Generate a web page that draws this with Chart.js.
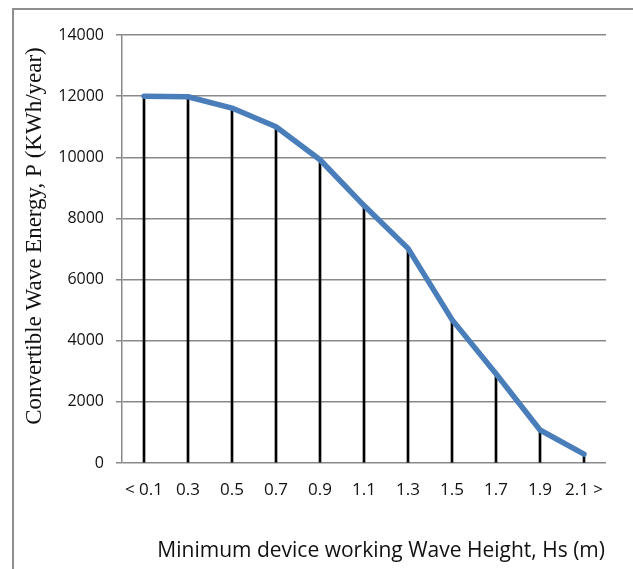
<!DOCTYPE html>
<html lang="en">
<head>
  <meta charset="UTF-8" />
  <title>Convertible Wave Energy</title>
  <script src="https://cdn.jsdelivr.net/npm/chart.js"></script>
  <style>
    html, body {
      margin: 0;
      padding: 0;
      background: #fff;
      overflow: hidden;
    }
    /* gray frame of the original figure, only left and top edges visible */
    .frame {
      position: absolute;
      left: 12px;
      top: 8px;
      width: 700px;
      height: 700px;
      border-left: 2px solid #8e8e8e;
      border-top: 2px solid #8e8e8e;
    }
    #waveChart {
      position: absolute;
      left: 0;
      top: 0;
    }
  </style>
</head>
<body>
  <div class="frame"></div>
  <canvas id="waveChart" width="633" height="569"></canvas>

  <script>
    // Data
    const heights = ['< 0.1', '0.3', '0.5', '0.7', '0.9', '1.1', '1.3', '1.5', '1.7', '1.9', '2.1 >'];
    const energy = [12000, 11980, 11610, 11000, 9920, 8420, 7020, 4690, 2920, 1080, 290];
    const yTicks = [0, 2000, 4000, 6000, 8000, 10000, 12000, 14000];

    const xTitle = 'Minimum device working Wave Height, Hs (m)';
    const yTitle = 'Convertible Wave Energy, P (KWh/year)';

    const gridColor = '#898989';

    // axis titles drawn at fixed spots like the source figure
    const axisTitles = {
      id: 'axisTitles',
      afterDraw(chart) {
        const ctx = chart.ctx;
        ctx.save();
        ctx.fillStyle = '#111';
        ctx.textBaseline = 'alphabetic';

        ctx.font = '21px "Open Sans"';
        ctx.textAlign = 'right';
        ctx.fillText(xTitle, 605, 557);

        ctx.font = '23px "Liberation Serif"';
        ctx.textAlign = 'center';
        ctx.translate(41, 236);
        ctx.rotate(-Math.PI / 2);
        ctx.fillText(yTitle, 0, 0);
        ctx.restore();
      }
    };

    const ctx = document.getElementById('waveChart').getContext('2d');
    const waveChart = new Chart(ctx, {
      data: {
        labels: heights,
        datasets: [
          {
            type: 'line',
            data: energy,
            borderColor: '#4a7ebb',
            borderWidth: 5.5,
            borderCapStyle: 'round',
            borderJoinStyle: 'round',
            pointRadius: 0,
            tension: 0,
            fill: false,
            order: 0
          },
          {
            // thin black drop lines from each point to the axis
            type: 'bar',
            data: energy,
            backgroundColor: '#000',
            barThickness: 2,
            order: 1
          }
        ]
      },
      options: {
        responsive: false,
        animation: false,
        layout: {
          padding: { left: 0, right: 27, top: 35, bottom: 0 }
        },
        plugins: {
          legend: { display: false },
          tooltip: { enabled: false }
        },
        scales: {
          x: {
            offset: true,
            grid: { display: false, drawTicks: false },
            border: { display: false },
            ticks: {
              color: '#111',
              font: { family: '"Open Sans"', size: 17 },
              padding: 17,
              maxRotation: 0,
              autoSkip: false
            },
            afterFit(scale) { scale.height = 106; }
          },
          y: {
            min: 0,
            max: 14000,
            afterBuildTicks(scale) {
              scale.ticks = yTicks.map(v => ({ value: v }));
            },
            grid: {
              color: gridColor,
              lineWidth: 1.5,
              tickLength: 6,
              drawTicks: true
            },
            border: { display: true, color: gridColor, width: 1.5 },
            ticks: {
              color: '#111',
              font: { family: '"Open Sans"', size: 16 },
              padding: 12,
              callback: v => String(v)
            },
            afterFit(scale) { scale.width = 122; }
          }
        }
      },
      plugins: [axisTitles]
    });
  </script>
</body>
</html>
